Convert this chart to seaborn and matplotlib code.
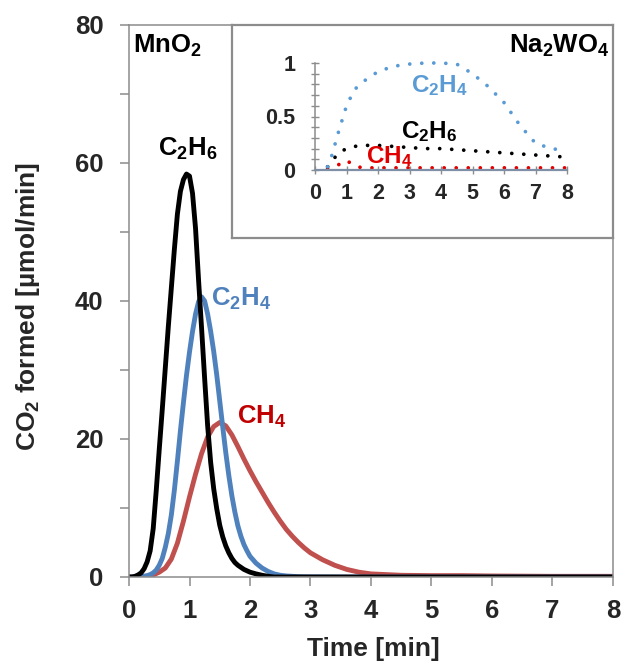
import numpy as np
import pandas as pd
import matplotlib
matplotlib.use("Agg")
import matplotlib.pyplot as plt
import seaborn as sns

# ---------------- data ----------------
# MnO2 catalyst: CO2 formation rate [umol/min] vs time [min]
t_c2h6 = [0.0, 0.05, 0.1, 0.15, 0.2, 0.25, 0.3, 0.35, 0.4, 0.45, 0.5, 0.55, 0.6, 0.65,
          0.7, 0.75, 0.8, 0.85, 0.9, 0.95, 1.0, 1.05, 1.1, 1.15, 1.2, 1.25, 1.3, 1.35,
          1.4, 1.45, 1.5, 1.55, 1.6, 1.65, 1.7, 1.75, 1.8, 1.9, 2.0, 2.1, 2.2, 2.3,
          2.4, 2.6, 3.0, 4.0, 5.0, 6.0, 7.0, 8.0]
c2h6 = [0.0, 0.0, 0.1, 0.3, 0.6, 1.2, 2.2, 3.8, 7.0, 12.5, 18.5, 24.3, 30.3, 36.3,
        41.9, 47.5, 52.6, 55.9, 57.6, 58.4, 58.1, 55.6, 50.5, 43.0, 36.0, 28.8, 21.9, 16.6,
        12.8, 9.9, 7.5, 5.8, 4.5, 3.5, 2.7, 2.1, 1.7, 1.1, 0.7, 0.45, 0.25, 0.1,
        0.0, 0.0, 0.0, 0.0, 0.0, 0.0, 0.0, 0.0]

t_c2h4 = [0.0, 0.1, 0.2, 0.3, 0.35, 0.4, 0.45, 0.5, 0.55, 0.6, 0.65, 0.7, 0.75, 0.8,
          0.85, 0.9, 0.95, 1.0, 1.05, 1.1, 1.15, 1.2, 1.25, 1.3, 1.35, 1.4, 1.45, 1.5,
          1.55, 1.6, 1.65, 1.7, 1.75, 1.8, 1.85, 1.9, 1.95, 2.0, 2.1, 2.2, 2.3, 2.4,
          2.5, 2.6, 2.8, 3.0, 3.5, 4.0, 5.0, 6.0, 7.0, 8.0]
c2h4 = [0.0, 0.0, 0.05, 0.2, 0.35, 0.6, 1.0, 1.7, 2.7, 4.3, 6.3, 9.0, 12.6, 16.8,
        21.2, 25.3, 29.2, 32.6, 35.6, 38.1, 39.9, 40.6, 40.0, 38.1, 35.6, 32.7, 29.3, 25.5,
        21.7, 18.0, 14.7, 11.8, 9.4, 7.4, 5.9, 4.7, 3.8, 3.0, 2.0, 1.3, 0.8, 0.45,
        0.25, 0.15, 0.05, 0.02, 0.0, 0.0, 0.0, 0.0, 0.0, 0.0]

t_ch4 = [0.0, 0.1, 0.2, 0.3, 0.4, 0.5, 0.6, 0.7, 0.8, 0.9, 1.0, 1.1, 1.2, 1.3, 1.4,
         1.5, 1.6, 1.7, 1.8, 1.9, 2.0, 2.1, 2.2, 2.3, 2.4, 2.5, 2.6, 2.7, 2.8, 2.9,
         3.0, 3.2, 3.4, 3.6, 3.8, 4.0, 4.5, 5.0, 5.5, 6.0, 7.0, 8.0]
ch4 = [0.0, 0.0, 0.0, 0.1, 0.3, 0.7, 1.3, 2.6, 4.9, 8.1, 11.6, 14.9, 17.9, 20.3, 21.8,
       22.4, 21.9, 20.6, 18.9, 17.1, 15.4, 13.8, 12.3, 10.8, 9.4, 8.1, 6.9, 5.9, 5.0, 4.2,
       3.5, 2.5, 1.7, 1.1, 0.7, 0.45, 0.25, 0.2, 0.2, 0.15, 0.1, 0.1]

# Na2WO4 catalyst (inset)
t_in = [0.4, 0.5, 0.75, 1.0, 1.25, 1.5, 1.75, 2.0, 2.5, 3.0, 3.5, 4.0, 4.5, 5.0,
        5.5, 6.0, 6.5, 7.0, 7.5, 8.0]
c2h4_in = [0.03, 0.1, 0.36, 0.6, 0.75, 0.82, 0.87, 0.92, 0.97, 0.99, 1.0, 1.0, 0.99, 0.9,
           0.78, 0.63, 0.42, 0.25, 0.2, 0.18]
c2h6_in = [0.03, 0.07, 0.16, 0.2, 0.22, 0.23, 0.23, 0.23, 0.22, 0.21, 0.2, 0.2, 0.19, 0.18,
           0.17, 0.16, 0.15, 0.14, 0.13, 0.12]
ch4_in = [0.01, 0.02, 0.05, 0.09, 0.04, 0.02, 0.02, 0.02, 0.02, 0.02, 0.02, 0.02, 0.02, 0.02,
          0.02, 0.02, 0.02, 0.02, 0.02, 0.02]

x_ticks = [0, 1, 2, 3, 4, 5, 6, 7, 8]
y_ticks = [0, 20, 40, 60, 80]
y_ticks_in = [0, 0.5, 1]
y_ticklabels_in = ["0", "0.5", "1"]

# ---------------- style ----------------
sns.set_theme(style="white")
plt.rcParams["font.family"] = ["Liberation Sans", "DejaVu Sans"]
plt.rcParams["font.weight"] = "bold"
plt.rcParams["mathtext.fontset"] = "custom"
plt.rcParams["mathtext.bf"] = "Liberation Sans:bold"
plt.rcParams["mathtext.rm"] = "Liberation Sans:bold"
plt.rcParams["mathtext.default"] = "bf"

BLACK = "#000000"
BLUE = "#4F81BD"
RED = "#C0504D"
RED_TXT = "#C00000"
BLUE_DOT = "#5B9BD5"
RED_DOT = "#E00000"
GRAY = "#8C8C8C"

FS_TICK = 18.5
FS_LABEL = 19
FS_NOTE = 18.5
FS_NOTE_IN = 17.5
FS_TICK_IN = 15.5

W, H = 624, 670
fig = plt.figure(figsize=(W / 100, H / 100), dpi=100)


def fx(px):
    return px / W


def fy(py):
    return 1 - py / H


# ---------------- main axes ----------------
ax = fig.add_axes([fx(129), fy(577), fx(613) - fx(129), fy(25) - fy(577)])

main_df = pd.concat([
    pd.DataFrame({"t": t_c2h6, "v": c2h6, "gas": "C2H6"}),
    pd.DataFrame({"t": t_c2h4, "v": c2h4, "gas": "C2H4"}),
    pd.DataFrame({"t": t_ch4, "v": ch4, "gas": "CH4"}),
])
line_kw = dict(lw=3.5, legend=False, sort=False, solid_capstyle="round",
               solid_joinstyle="round")
sns.lineplot(data=main_df[main_df.gas == "CH4"], x="t", y="v", ax=ax, color=RED, **line_kw)
sns.lineplot(data=main_df[main_df.gas == "C2H4"], x="t", y="v", ax=ax, color=BLUE, **line_kw)
sns.lineplot(data=main_df[main_df.gas == "C2H6"], x="t", y="v", ax=ax, color=BLACK, **line_kw)

ax.set_xlim(0, 8)
ax.set_ylim(0, 80)
ax.set_xticks(x_ticks)
ax.set_yticks(y_ticks)
ax.set_yticks([10, 30, 50, 70], minor=True)
ax.set_xticklabels([str(v) for v in x_ticks], fontsize=FS_TICK, fontweight="bold")
ax.set_yticklabels([str(v) for v in y_ticks], fontsize=FS_TICK, fontweight="bold")
ax.tick_params(axis="both", which="both", direction="out", length=6.5, width=1.1,
               color=GRAY, left=True, bottom=True)
ax.tick_params(axis="y", which="major", pad=12)
ax.tick_params(axis="x", which="major", pad=9)
for s in ax.spines.values():
    s.set_color(GRAY)
    s.set_linewidth(1.1)
ax.set_xlabel("")
ax.set_ylabel("")

fig.text(fx(373), fy(649), "Time [min]", ha="center", va="center",
         fontsize=FS_LABEL, fontweight="bold")
fig.text(fx(28), fy(306), r"CO$_2$ formed [µmol/min]", ha="center", va="center",
         rotation=90, fontsize=FS_LABEL, fontweight="bold")

ax.text(0.07, 76.9, r"MnO$_2$", ha="left", va="center", fontsize=FS_NOTE, color=BLACK)
ax.text(0.98, 62.0, r"C$_2$H$_6$", ha="center", va="center", fontsize=FS_NOTE, color=BLACK)
ax.text(1.36, 40.3, r"C$_2$H$_4$", ha="left", va="center", fontsize=FS_NOTE, color=BLUE)
ax.text(1.79, 23.2, r"CH$_4$", ha="left", va="center", fontsize=FS_NOTE, color=RED_TXT)

# ---------------- inset frame ----------------
box = fig.add_axes([fx(232), fy(238), fx(613) - fx(232), fy(25) - fy(238)])
box.set_facecolor("white")
box.set_xticks([])
box.set_yticks([])
for s in box.spines.values():
    s.set_color(GRAY)
    s.set_linewidth(1.6)
box.text(0.99, 0.9, r"Na$_2$WO$_4$", transform=box.transAxes, ha="right", va="center",
         fontsize=FS_NOTE, color=BLACK)

# ---------------- inset axes ----------------
iax = fig.add_axes([fx(315), fy(170), fx(567) - fx(315), fy(63) - fy(170)])
iax.set_facecolor("none")
dot_kw = dict(lw=2.7, dashes=(0.01, 3.2), dash_capstyle="round", legend=False,
              sort=False, clip_on=False)
sns.lineplot(x=t_in, y=ch4_in, ax=iax, color=RED_DOT, **dot_kw)
sns.lineplot(x=t_in, y=c2h6_in, ax=iax, color=BLACK, **dot_kw)
sns.lineplot(x=t_in, y=c2h4_in, ax=iax, color=BLUE_DOT, **dot_kw)
iax.set_xlim(0, 8)
iax.set_ylim(0, 1)
iax.set_xticks(x_ticks)
iax.set_yticks(y_ticks_in)
iax.set_yticks(np.arange(0.1, 1.0, 0.1), minor=True)
iax.set_xticklabels([str(v) for v in x_ticks], fontsize=FS_TICK_IN, fontweight="bold")
iax.set_yticklabels(y_ticklabels_in, fontsize=FS_TICK_IN, fontweight="bold")
iax.tick_params(axis="both", which="both", direction="inout", length=6, width=1.0,
                color=GRAY, left=True, bottom=True)
iax.tick_params(axis="y", which="major", pad=11)
iax.tick_params(axis="x", which="major", pad=6)
for side in ("top", "right"):
    iax.spines[side].set_visible(False)
iax.spines["left"].set_color(GRAY)
iax.spines["bottom"].set_color("#7F8FA6")
iax.spines["left"].set_linewidth(1.1)
iax.spines["bottom"].set_linewidth(1.6)
iax.set_xlabel("")
iax.set_ylabel("")

iax.text(3.05, 0.79, r"C$_2$H$_4$", ha="left", va="center", fontsize=FS_NOTE_IN,
         color=BLUE_DOT)
iax.text(2.72, 0.36, r"C$_2$H$_6$", ha="left", va="center", fontsize=FS_NOTE_IN,
         color=BLACK)
iax.text(1.62, 0.13, r"CH$_4$", ha="left", va="center", fontsize=FS_NOTE_IN,
         color=RED_DOT)

fig.savefig("out.png", dpi=100)
